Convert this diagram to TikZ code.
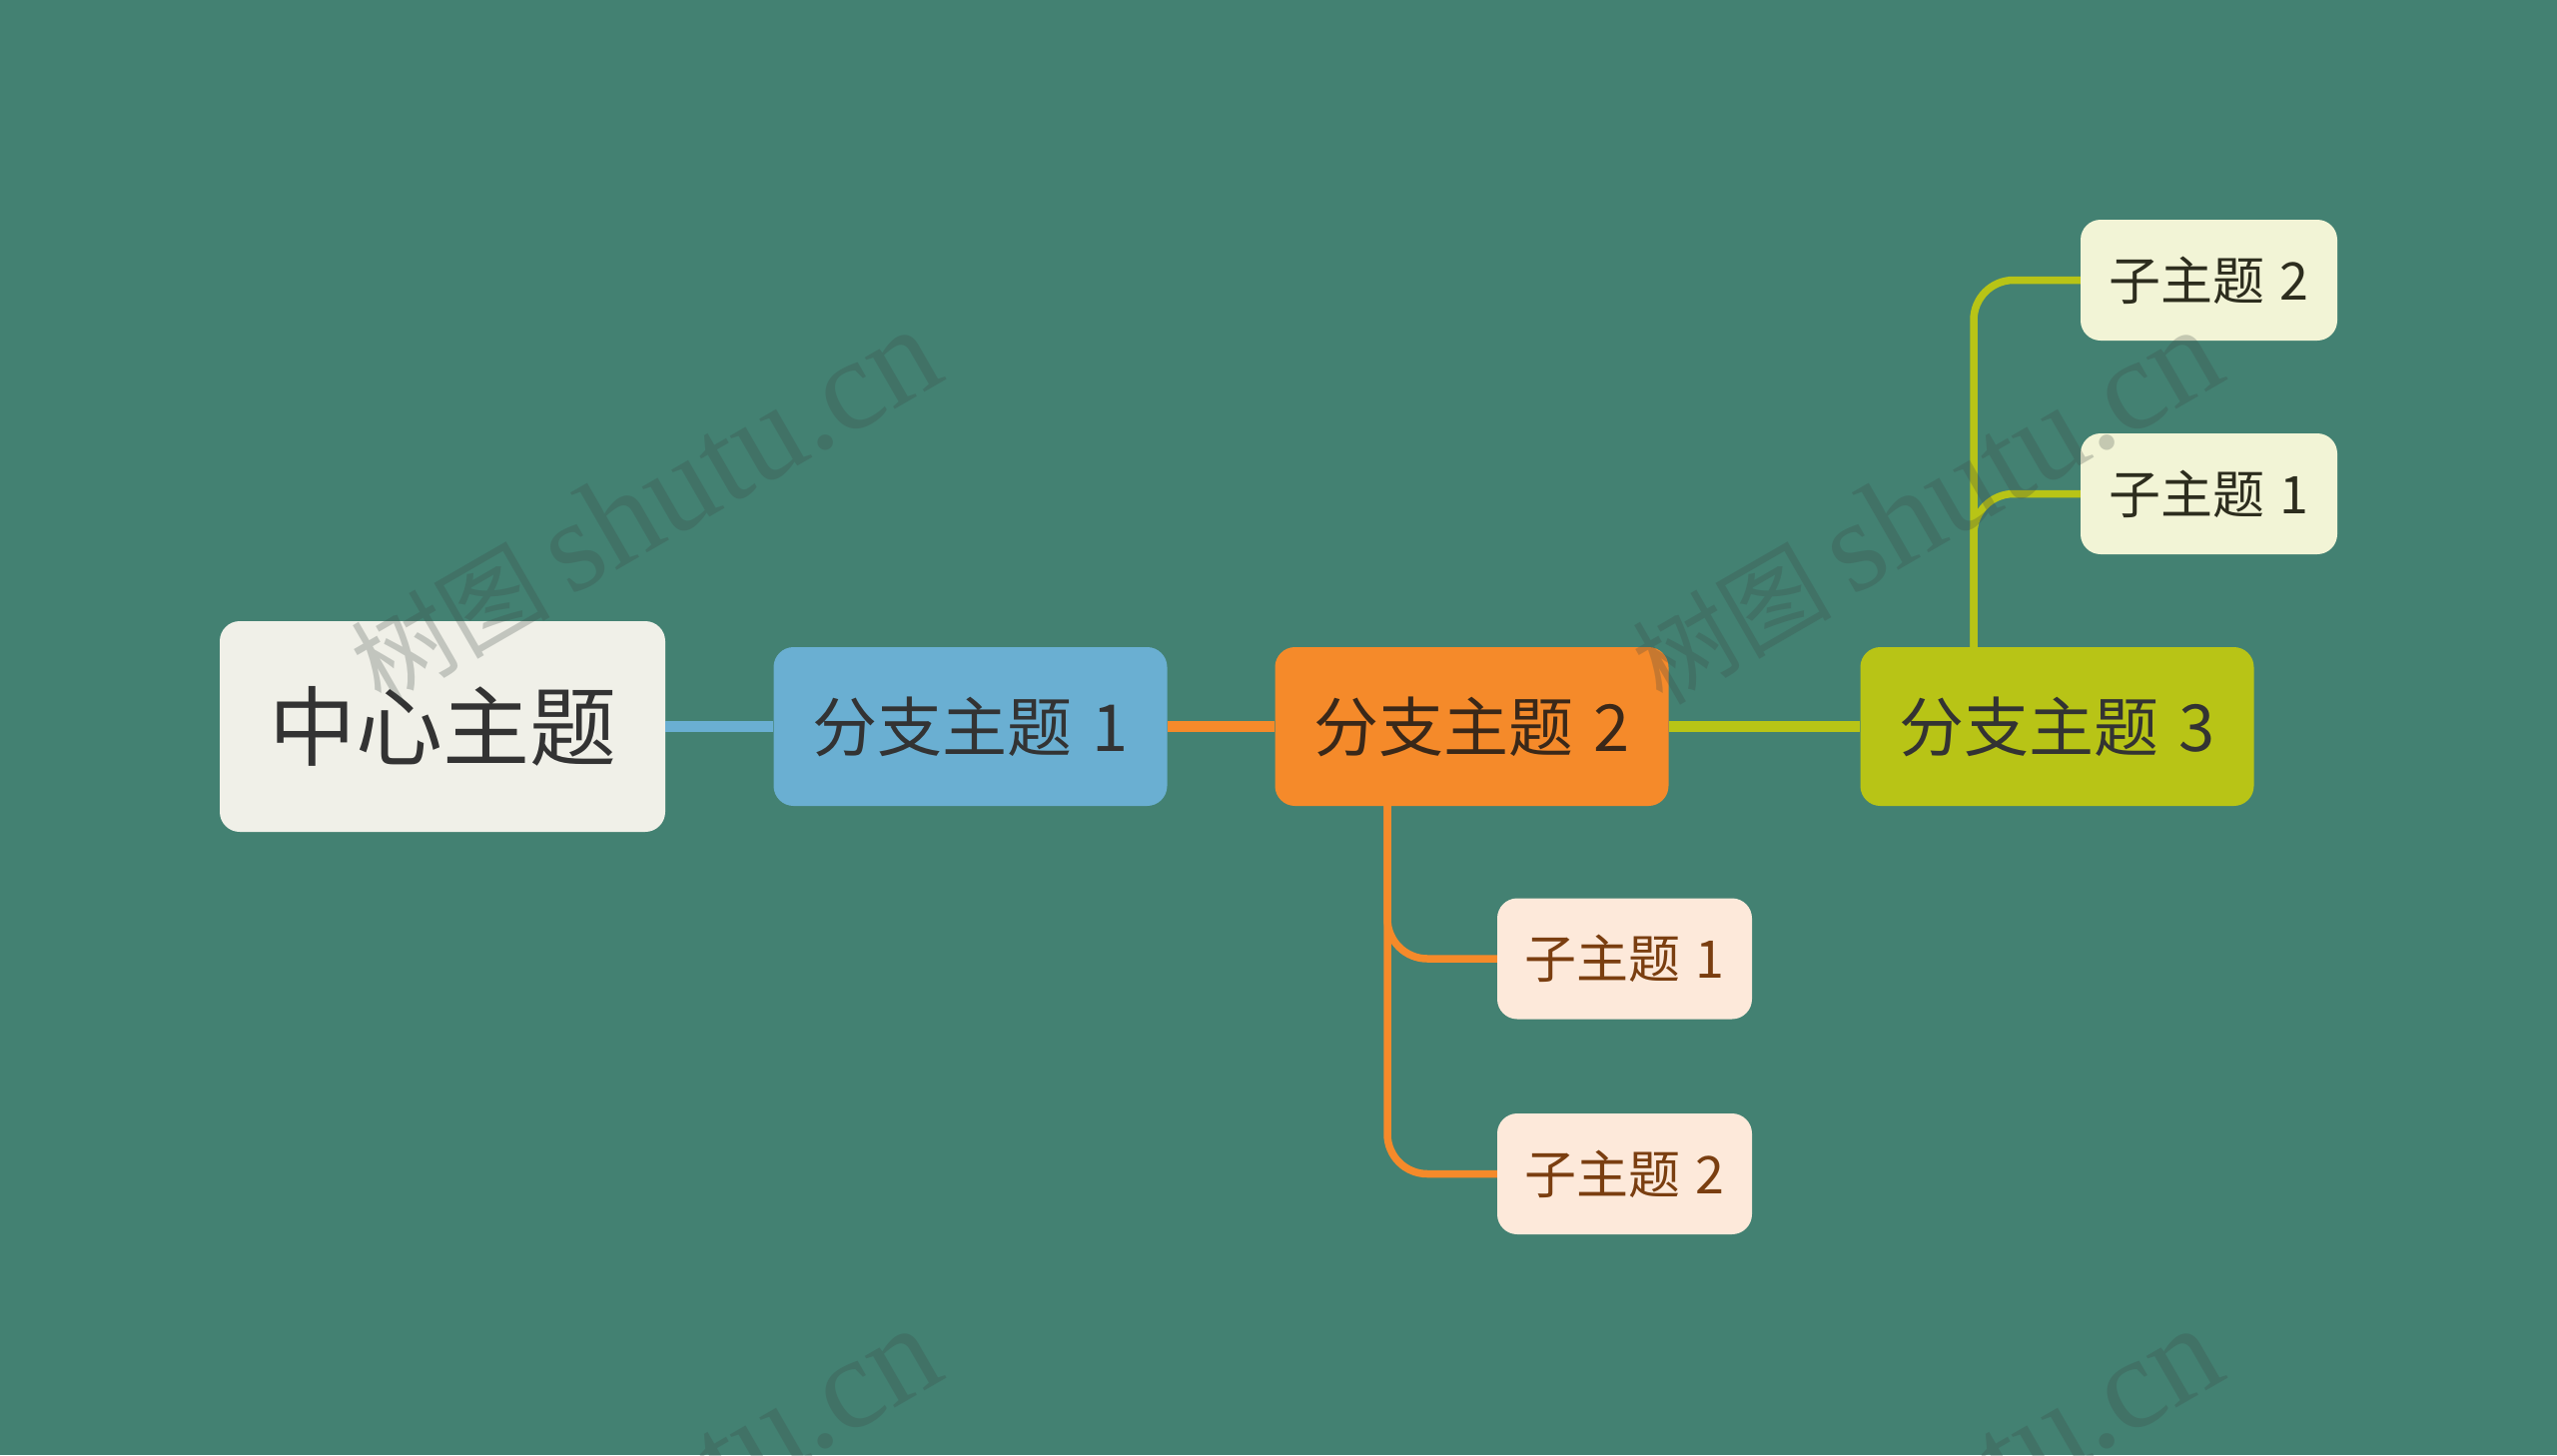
\documentclass[tikz,border=0pt]{standalone}
\usepackage{fontspec}
\newfontfamily\cjk{Noto Sans CJK SC}
\newfontfamily\wmlat{Liberation Serif}
\usetikzlibrary{calc}
\definecolor{bgc}{RGB}{67,129,114}
\definecolor{centfill}{RGB}{240,240,232}
\definecolor{txtdark}{RGB}{51,51,51}
\definecolor{blueb}{RGB}{106,175,210}
\definecolor{orangeb}{RGB}{245,138,42}
\definecolor{greenb}{RGB}{184,196,22}
\definecolor{subgfill}{RGB}{242,244,214}
\definecolor{subgtxt}{RGB}{45,45,30}
\definecolor{subofill}{RGB}{253,233,218}
\definecolor{subotxt}{RGB}{122,62,16}
\definecolor{wmc}{RGB}{60,70,68}
\definecolor{b2txt}{RGB}{58,40,25}
\tikzset{
  box/.style={rectangle, rounded corners=20, inner sep=0pt, align=center, font=\cjk},
  centbox/.style={box, fill=centfill, text=txtdark, minimum width=446, minimum height=211, font=\cjk\fontsize{87}{100}\selectfont},
  branchbox/.style={box, minimum width=394, minimum height=159, text=txtdark, font=\cjk\fontsize{65}{78}\selectfont},
  subgbox/.style={box, fill=subgfill, text=subgtxt, minimum width=257, minimum height=121, font=\cjk\fontsize{52}{62}\selectfont},
  subobox/.style={box, fill=subofill, text=subotxt, minimum width=255, minimum height=121, font=\cjk\fontsize{52}{62}\selectfont},
  mainline/.style={line width=11},
  subline/.style={line width=7.5, rounded corners=40},
  wmark/.style={rotate=30, text=wmc, opacity=0.25, inner sep=0pt}
}
\begin{document}
\begin{tikzpicture}[x=1pt,y=-1pt]
\fill[bgc] (0,0) rectangle (2560,1457);
\useasboundingbox (0,0) rectangle (2560,1457);

% nodes
\node[centbox] (c) at (443,727.5) {中心主题};
\node[branchbox, fill=blueb] (b1) at (971.5,727.5) {分支主题\hspace{0.32em}1};
\node[branchbox, fill=orangeb, text=b2txt] (b2) at (1473.5,727.5) {分支主题\hspace{0.32em}2};
\node[branchbox, fill=greenb] (b3) at (2059.5,727.5) {分支主题\hspace{0.32em}3};
\node[subgbox] (g2) at (2211.5,280.5) {子主题\hspace{0.3em}2};
\node[subgbox] (g1) at (2211.5,494.5) {子主题\hspace{0.3em}1};
\node[subobox] (o1) at (1626.5,960) {子主题\hspace{0.3em}1};
\node[subobox] (o2) at (1626.5,1175.5) {子主题\hspace{0.3em}2};

% connectors
\draw[mainline, blueb] (c.east) -- (b1.west);
\draw[mainline, orangeb] (b1.east) -- (b2.west);
\draw[mainline, greenb] (b2.east) -- (b3.west);

\coordinate (ob) at ([xshift=-84.5]b2.south);
\coordinate (gb) at ([xshift=-83.5]b3.north);
\draw[subline, orangeb] (ob) |- (o2.west);
\draw[subline, orangeb] (ob) |- (o1.west);
\draw[subline, greenb] (gb) |- (g2.west);
\draw[subline, greenb] (gb) |- (g1.west);

% watermarks
\foreach \wx/\wy in {645/508, 1928/508, 645/1508, 1928/1508}{
  \node[wmark] at (\wx,\wy) {{\cjk\fontsize{100}{110}\selectfont 树图}\hspace{20pt}{\wmlat\fontsize{130}{140}\selectfont shutu.cn}};
}
\end{tikzpicture}
\end{document}
